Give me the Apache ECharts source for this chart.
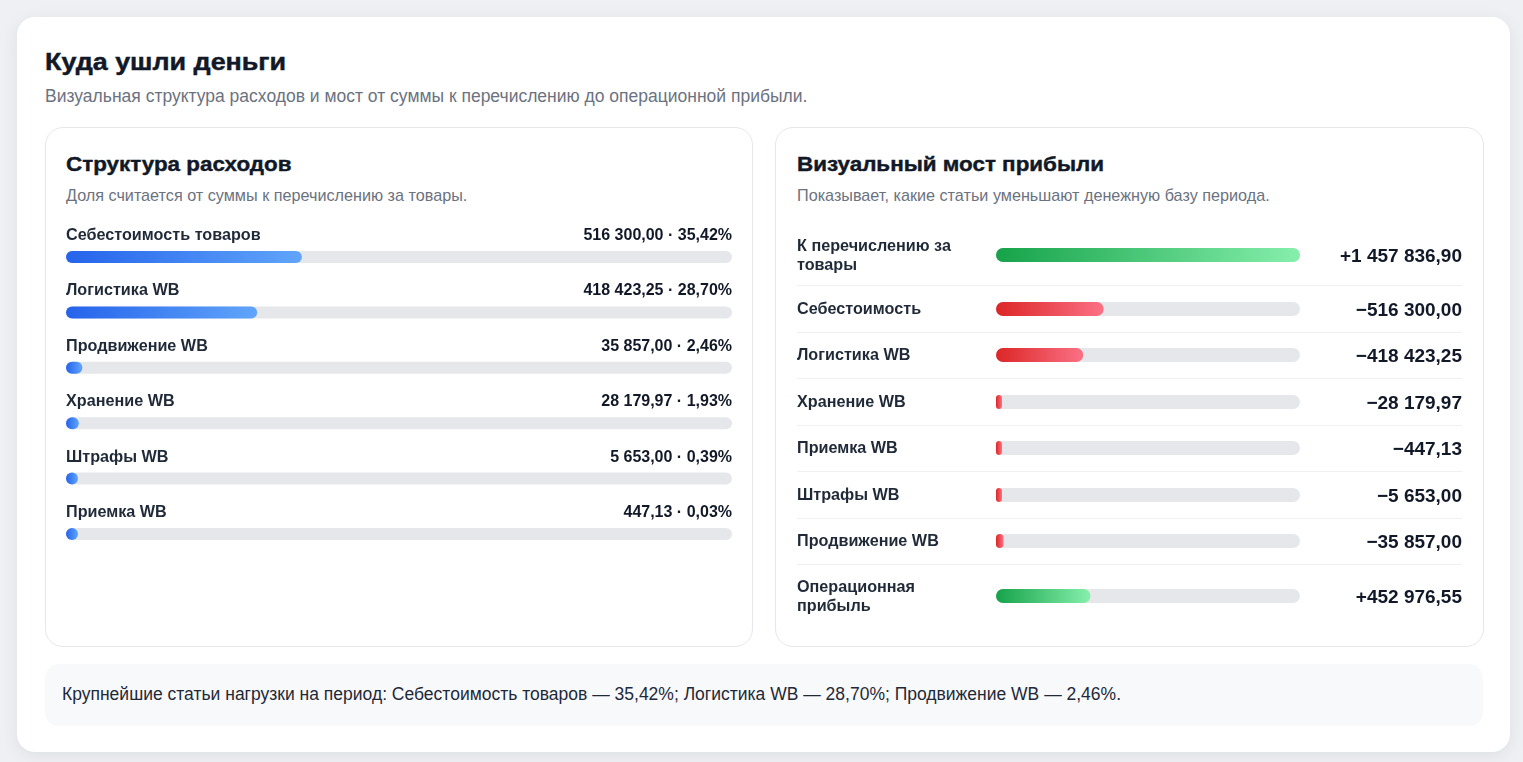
<!DOCTYPE html>
<html><head><meta charset="utf-8">
<script src="https://cdn.jsdelivr.net/npm/echarts@6/dist/echarts.min.js"></script>
<style>
html,body{margin:0;padding:0;}
body{width:1523px;height:762px;overflow:hidden;background:#eef0f3;font-family:'Liberation Sans',Arial,sans-serif;position:relative;}
.abs{position:absolute;white-space:nowrap;line-height:1;}
.card{left:17px;top:17px;width:1493px;height:735px;background:#fff;border-radius:18px;box-shadow:0 4px 18px rgba(15,23,42,.07);}
.panel{top:127px;height:520px;border:1px solid #e5e7eb;border-radius:18px;background:#fff;box-sizing:border-box;}
.h1{font-size:24px;font-weight:bold;color:#111827;transform:scaleX(1.12);transform-origin:0 0;-webkit-text-stroke:0.45px #111827;}
.sub{font-size:17.5px;color:#6b7280;}
.h2{font-size:20px;font-weight:bold;color:#111827;transform:scaleX(1.12);transform-origin:0 0;-webkit-text-stroke:0.4px #111827;}
.sub2{font-size:16.2px;color:#6b7280;}
.sep{height:1px;background:#eef0f3;left:797px;width:665px;}
.foot{left:45px;top:664px;width:1438px;height:62px;background:#f8f9fb;border-radius:14px;}
.foottext{font-size:17.5px;color:#1f2937;left:62px;top:686px;}
#chart{position:absolute;left:0;top:0;width:1523px;height:762px;}
</style></head>
<body>
<div class="abs card"></div>
<div class="abs h1" style="left:45px;top:50px;">Куда ушли деньги</div>
<div class="abs sub" style="left:45px;top:88px;">Визуальная структура расходов и мост от суммы к перечислению до операционной прибыли.</div>
<div class="abs panel" style="left:45px;width:708px;"></div>
<div class="abs panel" style="left:775px;width:709px;"></div>
<div class="abs h2" style="left:66px;top:153.5px;">Структура расходов</div>
<div class="abs sub2" style="left:66px;top:186.6px;">Доля считается от суммы к перечислению за товары.</div>
<div class="abs h2" style="left:797px;top:153.5px;">Визуальный мост прибыли</div>
<div class="abs sub2" style="left:797px;top:186.6px;">Показывает, какие статьи уменьшают денежную базу периода.</div>
<div id="seps"></div>
<div class="abs foot"></div>
<div class="abs foottext" id="foot"></div>
<div id="chart"></div>
<script>
// ---- data ----
const structureCategories = ['Себестоимость товаров','Логистика WB','Продвижение WB','Хранение WB','Штрафы WB','Приемка WB'];
const structureAmounts = [516300.00, 418423.25, 35857.00, 28179.97, 5653.00, 447.13];
const structureShares = [35.42, 28.70, 2.46, 1.93, 0.39, 0.03];
const bridgeCategories = ['К перечислению за товары','Себестоимость','Логистика WB','Хранение WB','Приемка WB','Штрафы WB','Продвижение WB','Операционная прибыль'];
const bridgeValues = [1457836.90, -516300.00, -418423.25, -28179.97, -447.13, -5653.00, -35857.00, 452976.55];

// ---- layout ----
const rowCenters = [255, 309, 355, 402, 448, 495, 541, 596];
const sepYs = [285, 332, 378, 425, 471, 518, 564];
const FONT = "'Liberation Sans', Arial, sans-serif";
const LABEL_COL = 172;

function fmt(v, signed){
  const p = Math.abs(v).toFixed(2).split('.');
  const i = p[0].replace(/\B(?=(\d{3})+(?!\d))/g, ' ');
  return (signed ? (v < 0 ? '−' : '+') : '') + i + ',' + p[1];
}
function pct(v){ return v.toFixed(2).replace('.', ',') + '%'; }
function grad(a, b){ return {type:'linear', x:0, y:0, x2:1, y2:0, colorStops:[{offset:0,color:a},{offset:1,color:b}]}; }
const mctx = document.createElement('canvas').getContext('2d');
function wrap(text, font, maxW){
  mctx.font = font;
  const words = text.split(' '); const lines = []; let cur = '';
  words.forEach(w => {
    const t = cur ? cur + ' ' + w : w;
    if (cur && mctx.measureText(t).width > maxW) { lines.push(cur); cur = w; } else cur = t;
  });
  if (cur) lines.push(cur);
  return lines.join('\n');
}

// separators
const sepBox = document.getElementById('seps');
sepYs.forEach(y => { const d = document.createElement('div'); d.className = 'abs sep'; d.style.top = y + 'px'; sepBox.appendChild(d); });

// footer
const top3 = structureCategories.map((c, i) => ({c, s: structureShares[i]})).sort((a, b) => b.s - a.s).slice(0, 3);
document.getElementById('foot').textContent = 'Крупнейшие статьи нагрузки на период: ' + top3.map(t => t.c + ' — ' + pct(t.s)).join('; ') + '.';

const grids = [], xAxes = [], yAxes = [], series = [];
// left panel
grids.push({left:66, top:229.3, width:666, height:332.4});
xAxes.push({type:'value', gridIndex:0, min:0, max:100, show:false});
yAxes.push({type:'category', gridIndex:0, data:structureCategories, inverse:true, show:false});
series.push({type:'bar', xAxisIndex:0, yAxisIndex:0, data:structureCategories.map(() => 100), barWidth:12, barGap:'-100%', silent:true,
  itemStyle:{color:'#e5e7eb', borderRadius:6},
  label:{show:true, position:'insideLeft', distance:0, offset:[0,-21.5], formatter:p => p.name, color:'#1f2937', fontSize:16.2, fontWeight:'bold', fontFamily:FONT}});
series.push({type:'bar', xAxisIndex:0, yAxisIndex:0, data:structureCategories.map(() => 100), barWidth:12, barGap:'-100%', silent:true,
  itemStyle:{color:'rgba(0,0,0,0)'},
  label:{show:true, position:'insideRight', distance:0, offset:[0,-21.5], formatter:p => fmt(structureAmounts[p.dataIndex]) + ' · ' + pct(structureShares[p.dataIndex]), color:'#111827', fontSize:16, fontWeight:'bold', fontFamily:FONT}});
series.push({type:'bar', xAxisIndex:0, yAxisIndex:0, data:structureShares, barWidth:12, barGap:'-100%', barMinHeight:12, silent:true,
  itemStyle:{color:grad('#2563eb','#60a5fa'), borderRadius:6}});

// right panel
const bridgeMax = bridgeValues[0];
const labelFont = "bold 16.2px 'Liberation Sans', Arial, sans-serif";
bridgeCategories.forEach((c, i) => {
  const g = i + 1;
  grids.push({left:996, width:304, top:rowCenters[i] - 7, height:14});
  xAxes.push({type:'value', gridIndex:g, min:0, max:bridgeMax, show:false});
  yAxes.push({type:'category', gridIndex:g, data:[c], show:false});
  series.push({type:'bar', xAxisIndex:g, yAxisIndex:g, data:[bridgeMax], barWidth:14, barGap:'-100%', silent:true,
    itemStyle:{color:'#e5e7eb', borderRadius:7},
    label:{show:true, position:'insideRight', distance:0, offset:[162,1.5], formatter:() => fmt(bridgeValues[i], true), color:'#111827', fontSize:19, fontWeight:'bold', fontFamily:FONT}});
  series.push({type:'bar', xAxisIndex:g, yAxisIndex:g, data:[bridgeMax], barWidth:14, barGap:'-100%', silent:true,
    itemStyle:{color:'rgba(0,0,0,0)'},
    label:{show:true, position:'insideLeft', distance:0, offset:[-199,1], align:'left', lineHeight:19.5,
      formatter:p => wrap(p.name, labelFont, LABEL_COL), color:'#1f2937', fontSize:16.2, fontWeight:'bold', fontFamily:FONT}});
  const pos = bridgeValues[i] > 0;
  series.push({type:'bar', xAxisIndex:g, yAxisIndex:g, data:[Math.abs(bridgeValues[i])], barWidth:14, barGap:'-100%', barMinHeight:6, silent:true,
    itemStyle:{color: pos ? grad('#16a34a','#86efac') : grad('#dc2626','#fb7185'), borderRadius:7}});
});

const chart = echarts.init(document.getElementById('chart'), null, {renderer:'canvas'});
chart.setOption({animation:false, textStyle:{fontFamily:FONT}, grid:grids, xAxis:xAxes, yAxis:yAxes, series:series});
</script>
</body></html>
